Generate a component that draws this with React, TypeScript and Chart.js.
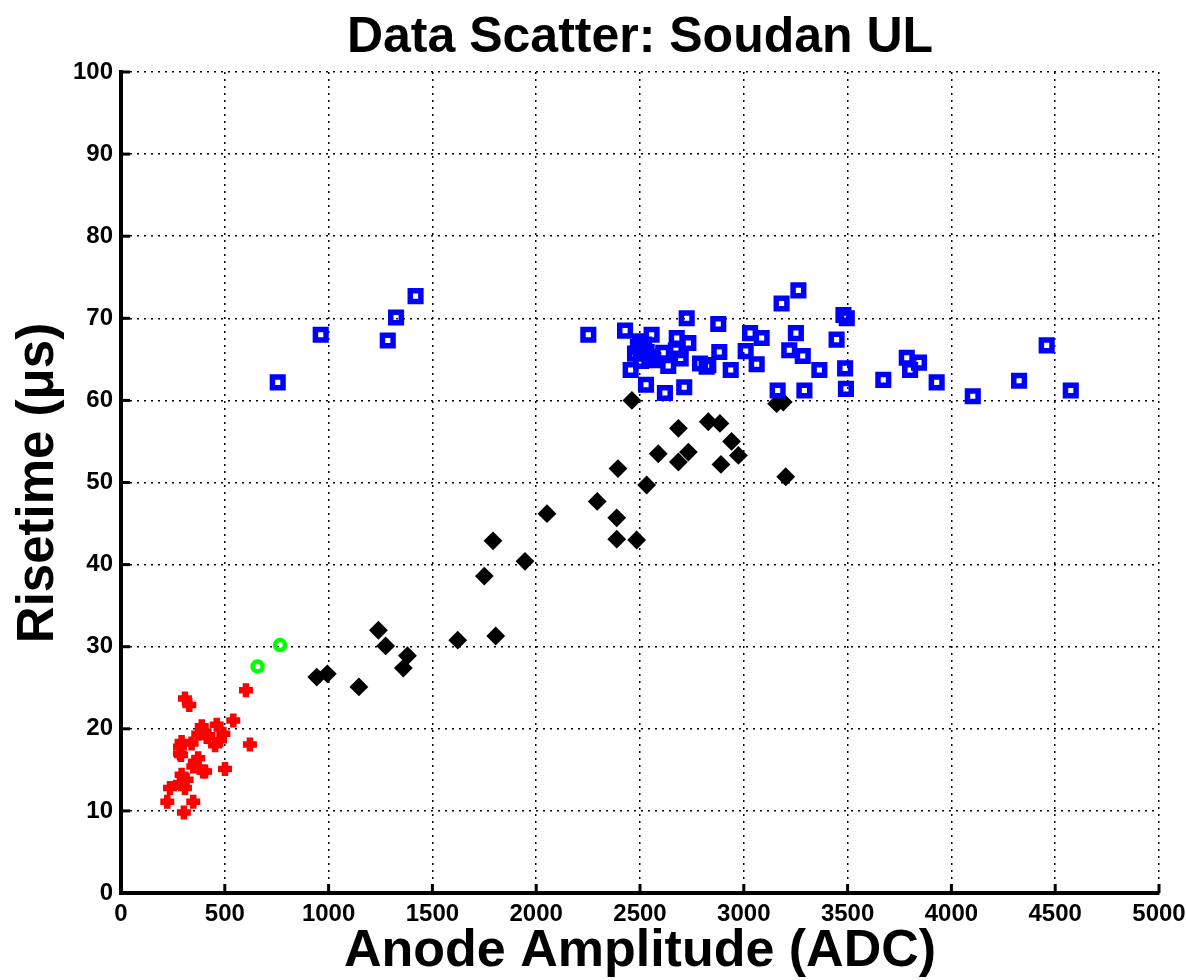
import React, { useEffect, useRef } from "react";
import { Chart, registerables } from "chart.js";

Chart.register(...registerables);

const TITLE = "Data Scatter: Soudan UL";
const X_TITLE = "Anode Amplitude (ADC)";
const Y_TITLE = "Risetime (\u03bcs)";

const xTicks = [0, 500, 1000, 1500, 2000, 2500, 3000, 3500, 4000, 4500, 5000];
const yTicks = [0, 10, 20, 30, 40, 50, 60, 70, 80, 90, 100];

const redX = [308, 329, 602, 541, 621, 501, 389, 461, 493, 421, 453, 372, 292, 340, 284, 372, 396, 348, 292, 316, 284, 308, 236, 223, 348, 303, 284, 356, 477, 413, 289, 405];
const redY = [23.7, 22.9, 24.7, 21.0, 18.1, 15.1, 20.3, 20.5, 19.4, 19.2, 18.0, 19.4, 18.4, 18.2, 17.0, 16.4, 14.8, 15.4, 14.4, 13.8, 13.4, 12.8, 12.8, 11.1, 11.1, 9.8, 17.8, 16.0, 18.6, 19.0, 16.8, 14.8];

const greenX = [658, 766];
const greenY = [27.6, 30.2];

const blackX = [943, 994, 1146, 1240, 1275, 1360, 1380, 1622, 1805, 1750, 1792, 1946, 2052, 2294, 2388, 2388, 2484, 2394, 2532, 2461, 2685, 2829, 2885, 2941, 2974, 2588, 2685, 2733, 2890, 3158, 3190, 3202];
const blackY = [26.3, 26.7, 25.1, 32.0, 30.1, 27.4, 28.9, 30.8, 31.3, 38.6, 42.9, 40.4, 46.2, 47.7, 45.7, 43.1, 43.0, 51.7, 49.7, 60.0, 56.6, 57.4, 57.2, 55.0, 53.3, 53.5, 52.5, 53.7, 52.2, 59.6, 59.8, 50.7];

const blueX = [755, 962, 1285, 1325, 1419, 3263, 3182, 3480, 3496, 2877, 3030, 3086, 3251, 3447, 2882, 3009, 3219, 3284, 2821, 2937, 3062, 3364, 3488, 3163, 3292, 3492, 3672, 3785, 3844, 3801, 3929, 4103, 4326, 4459, 4575, 2251, 2428, 2725, 2500, 2556, 2677, 2733, 2476, 2532, 2612, 2673, 2564, 2696, 2455, 2636, 2789, 2829, 2529, 2620, 2713, 2490, 2520, 2545, 2505];
const blueY = [62.2, 68.0, 67.3, 70.1, 72.7, 73.4, 71.8, 70.4, 70.0, 69.3, 68.2, 67.6, 68.2, 67.4, 65.9, 66.0, 66.1, 65.4, 64.1, 63.7, 64.4, 63.7, 63.9, 61.2, 61.2, 61.4, 62.5, 65.2, 64.6, 63.7, 62.2, 60.5, 62.4, 66.7, 61.2, 68.0, 68.5, 70.0, 67.2, 68.0, 67.6, 67.0, 65.7, 65.9, 65.8, 66.1, 64.9, 65.1, 63.7, 64.2, 64.5, 64.3, 61.9, 60.9, 61.6, 66.5, 66.8, 65.3, 64.8];

const pts = (xs: number[], ys: number[]) => xs.map((x, i) => ({ x, y: ys[i] }));

const FONT = "'Liberation Sans', Arial, Helvetica, sans-serif";

const decorPlugin = {
  id: "decor",
  beforeDatasetsDraw(chart: any) {
    const { ctx, chartArea, scales } = chart;
    ctx.save();
    ctx.strokeStyle = "#000";
    ctx.lineWidth = 3;
    const len = 9;
    xTicks.forEach((v) => {
      const px = scales.x.getPixelForValue(v);
      ctx.beginPath();
      ctx.moveTo(px, chartArea.bottom);
      ctx.lineTo(px, chartArea.bottom - len);
      ctx.stroke();
    });
    yTicks.forEach((v) => {
      const py = scales.y.getPixelForValue(v);
      ctx.beginPath();
      ctx.moveTo(chartArea.left, py);
      ctx.lineTo(chartArea.left + len, py);
      ctx.stroke();
    });
    ctx.restore();
  },
  afterDraw(chart: any) {
    const { ctx, chartArea } = chart;
    ctx.save();
    ctx.fillStyle = "#000";
    ctx.textAlign = "center";
    ctx.textBaseline = "alphabetic";
    const cx = (chartArea.left + chartArea.right) / 2;
    ctx.font = `bold 50px ${FONT}`;
    ctx.fillText(TITLE, cx, 52);
    ctx.font = `bold 52px ${FONT}`;
    ctx.fillText(X_TITLE, cx, 966);
    ctx.translate(53, 483);
    ctx.rotate(-Math.PI / 2);
    ctx.font = `bold 51px ${FONT}`;
    ctx.fillText(Y_TITLE, 0, 0);
    ctx.restore();
  },
};

export default function App() {
  const ref = useRef<HTMLCanvasElement>(null);
  useEffect(() => {
    if (!ref.current) return;
    const chart = new Chart(ref.current, {
      type: "scatter",
      data: {
        datasets: [
          {
            data: pts(blueX, blueY),
            pointStyle: "rect",
            radius: 7.5,
            borderWidth: 5.5,
            borderColor: "#0000ff",
            backgroundColor: "rgba(0,0,0,0)",
          },
          {
            data: pts(blackX, blackY),
            pointStyle: "rectRot",
            radius: 8,
            borderWidth: 2,
            borderColor: "#000",
            backgroundColor: "#000",
          },
          {
            data: pts(greenX, greenY),
            pointStyle: "circle",
            radius: 5,
            borderWidth: 4.5,
            borderColor: "#00ff00",
            backgroundColor: "rgba(0,0,0,0)",
          },
          {
            data: pts(redX, redY),
            pointStyle: "cross",
            radius: 7,
            borderWidth: 6.5,
            borderColor: "#ff0000",
            backgroundColor: "#ff0000",
          },
        ],
      },
      options: {
        animation: false,
        responsive: false,
        maintainAspectRatio: false,
        layout: { padding: { left: 0, top: 72, right: 27, bottom: 0 } },
        plugins: {
          legend: { display: false },
          tooltip: { enabled: false },
          title: { display: false },
        },
        scales: {
          x: {
            type: "linear",
            min: 0,
            max: 5000,
            afterFit: (s: any) => {
              s.height = 87;
              s.paddingLeft = 0;
              s.paddingRight = 0;
            },
            afterBuildTicks: (s: any) => {
              s.ticks = xTicks.map((v) => ({ value: v }));
            },
            ticks: {
              color: "#000",
              font: { family: FONT, size: 24, weight: "bold" },
              padding: 7,
              maxRotation: 0,
              autoSkip: false,
              callback: (v: any) => String(v),
            },
            grid: {
              color: "#000",
              lineWidth: 1.5,
              drawTicks: false,
            },
            border: { display: true, color: "#000", width: 4, dash: [2, 5] },
          },
          y: {
            type: "linear",
            min: 0,
            max: 100,
            afterFit: (s: any) => {
              s.width = 121;
              s.paddingTop = 0;
              s.paddingBottom = 0;
            },
            afterBuildTicks: (s: any) => {
              s.ticks = yTicks.map((v) => ({ value: v }));
            },
            ticks: {
              color: "#000",
              font: { family: FONT, size: 24, weight: "bold" },
              padding: 8,
              autoSkip: false,
              callback: (v: any) => String(v),
            },
            grid: {
              color: "#000",
              lineWidth: 1.5,
              drawTicks: false,
            },
            border: { display: true, color: "#000", width: 4, dash: [2, 5] },
          },
        },
      } as any,
      plugins: [decorPlugin],
    });
    return () => chart.destroy();
  }, []);
  return (
    <div style={{ position: "fixed", left: 0, top: 0, width: 1186, height: 980, background: "#fff" }}>
      <canvas ref={ref} width={1186} height={980} style={{ width: 1186, height: 980 }} />
    </div>
  );
}
